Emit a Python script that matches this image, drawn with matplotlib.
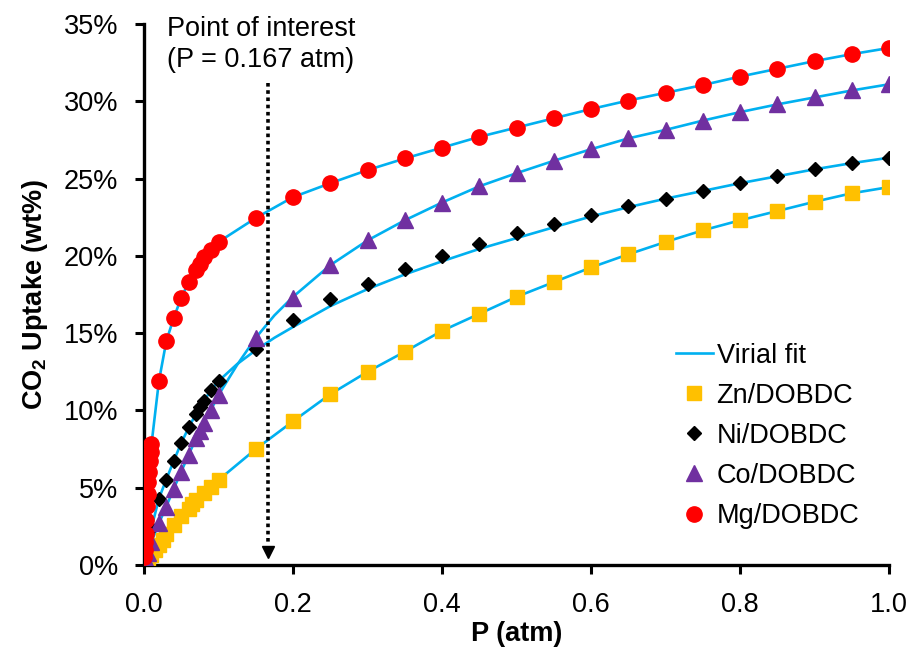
import numpy as np
import matplotlib
matplotlib.use("Agg")
import matplotlib.pyplot as plt
from matplotlib.lines import Line2D
from matplotlib.ticker import FuncFormatter, MultipleLocator

plt.rcParams['font.family'] = ['Liberation Sans', 'DejaVu Sans']
plt.rcParams['mathtext.fontset'] = 'custom'
plt.rcParams['mathtext.rm'] = 'Liberation Sans'
plt.rcParams['mathtext.bf'] = 'Liberation Sans:bold'

# --- measured isotherms (P in atm, uptake in wt%) ---
p_high = [0.15, 0.2, 0.25, 0.3, 0.35, 0.4, 0.45, 0.5, 0.55, 0.6,
          0.65, 0.7, 0.75, 0.8, 0.85, 0.9, 0.95, 1.0]

zn_p = [0.001, 0.003, 0.006, 0.01, 0.015, 0.02, 0.025, 0.03, 0.04, 0.05,
        0.06, 0.065, 0.07, 0.08, 0.09, 0.1] + p_high
zn_w = [0.1, 0.25, 0.45, 0.65, 0.95, 1.3, 1.65, 2.0, 2.6, 3.15,
        3.6, 3.95, 4.2, 4.65, 5.05, 5.5,
        7.5, 9.3, 11.05, 12.5, 13.8, 15.15, 16.25, 17.35, 18.3, 19.25,
        20.1, 20.9, 21.65, 22.3, 22.9, 23.5, 24.05, 24.45]

ni_p = [0.002, 0.005, 0.01, 0.02, 0.03, 0.04, 0.05, 0.06, 0.07, 0.075,
        0.08, 0.09, 0.1] + p_high
ni_w = [0.4, 1.2, 2.4, 4.3, 5.5, 6.7, 7.9, 8.9, 9.8, 10.2, 10.6, 11.3, 11.9,
        13.95, 15.85, 17.2, 18.2, 19.15, 20.0, 20.75, 21.45, 22.05, 22.65,
        23.2, 23.7, 24.2, 24.7, 25.15, 25.6, 26.0, 26.35]

co_p = [0.002, 0.005, 0.01, 0.02, 0.03, 0.04, 0.05, 0.06, 0.07, 0.075,
        0.08, 0.09, 0.1] + p_high
co_w = [0.3, 0.8, 1.5, 2.7, 3.75, 4.95, 6.05, 7.15, 8.2, 8.7, 9.2, 10.0, 11.0,
        14.7, 17.3, 19.4, 21.0, 22.3, 23.45, 24.5, 25.35, 26.15, 26.9,
        27.6, 28.15, 28.75, 29.3, 29.8, 30.25, 30.7, 31.1]

mg_p = [0.0005, 0.001, 0.0015, 0.002, 0.003, 0.004, 0.005, 0.006, 0.007,
        0.008, 0.009, 0.01, 0.02, 0.03, 0.04, 0.05, 0.06, 0.07, 0.075,
        0.08, 0.09, 0.1] + p_high
mg_w = [0.5, 1.0, 1.5, 2.0, 2.9, 3.8, 4.6, 5.4, 6.0, 6.7, 7.3, 7.8,
        11.9, 14.5, 16.0, 17.3, 18.3, 19.1, 19.5, 19.9, 20.4, 20.9,
        22.45, 23.8, 24.7, 25.55, 26.3, 27.0, 27.7, 28.3, 28.9, 29.5,
        30.05, 30.55, 31.05, 31.6, 32.1, 32.6, 33.05, 33.45]

# --- virial fit curves ---
fit_p = [0, 0.005, 0.01, 0.02, 0.03, 0.04, 0.05, 0.06, 0.07, 0.08, 0.09,
         0.1, 0.125, 0.15, 0.175, 0.2, 0.25, 0.3, 0.35, 0.4, 0.45, 0.5,
         0.55, 0.6, 0.65, 0.7, 0.75, 0.8, 0.85, 0.9, 0.95, 1.0]
ni_fit = [0, 1.2, 2.4, 4.3, 5.55, 6.75, 7.9, 8.9, 9.8, 10.6, 11.3, 11.9,
          13.0, 13.9, 14.7, 15.4, 16.75, 17.85, 18.8, 19.65, 20.45, 21.15,
          21.85, 22.55, 23.15, 23.7, 24.2, 24.7, 25.15, 25.6, 26.0, 26.35]
co_fit = [0, 0.8, 1.5, 2.7, 3.8, 4.95, 6.05, 7.15, 8.2, 9.2, 10.05, 11.0,
          12.95, 14.7, 16.15, 17.35, 19.4, 21.0, 22.3, 23.45, 24.5, 25.35,
          26.15, 26.9, 27.6, 28.15, 28.75, 29.3, 29.8, 30.25, 30.7, 31.1]
# Zn and Mg fits run through the measured points
zn_fit_p = [0] + zn_p
zn_fit = [0] + zn_w
mg_fit_p = [0] + mg_p
mg_fit = [0] + mg_w

poi_p = 0.167
poi_top = 31.2

fit_color = '#00B0F0'

fig = plt.figure(figsize=(9.15, 6.58), dpi=100)
ax = fig.add_axes([0.1574, 0.1413, 0.8142, 0.8222])

for fp, fw in [(zn_fit_p, zn_fit), (fit_p, ni_fit), (fit_p, co_fit), (mg_fit_p, mg_fit)]:
    ax.plot(fp, fw, color=fit_color, lw=1.9, zorder=2)

ax.plot(zn_p, zn_w, ls='none', marker='s', ms=10.5, color='#FFC000', zorder=3)
ax.plot(ni_p, ni_w, ls='none', marker='D', ms=7, color='black', zorder=4)
ax.plot(co_p, co_w, ls='none', marker='^', ms=11, color='#7030A0', zorder=5)
ax.plot(mg_p, mg_w, ls='none', marker='o', ms=11, color='#FF0000', zorder=6)

# point of interest arrow
ax.plot([poi_p, poi_p], [poi_top, 1.3], color='black', lw=2.6, ls=(0, (1, 1)), zorder=7)
ax.plot(poi_p, 0.85, marker='v', ms=8, color='black', zorder=7)
ax.text(0.031, 35.5, 'Point of interest\n(P = 0.167 atm)', fontsize=19.5,
        va='top', ha='left', linespacing=1.25, clip_on=False)

ax.set_xlim(0, 1.0)
ax.set_ylim(0, 35)
ax.xaxis.set_major_locator(MultipleLocator(0.2))
ax.yaxis.set_major_locator(MultipleLocator(5))
ax.xaxis.set_major_formatter(FuncFormatter(lambda v, _: f'{v:.1f}'))
ax.yaxis.set_major_formatter(FuncFormatter(lambda v, _: f'{v:.0f}%'))

for side in ['top', 'right']:
    ax.spines[side].set_visible(False)
for side in ['left', 'bottom']:
    ax.spines[side].set_linewidth(2.4)
ax.tick_params(axis='both', direction='out', length=6.5, width=2.2, labelsize=19.5)
ax.tick_params(axis='y', pad=12)
ax.tick_params(axis='x', pad=13)

ax.set_xlabel('P (atm)', fontsize=19.5, fontweight='bold', labelpad=2)
ax.set_ylabel(r'CO$_\mathbf{2}$ Uptake (wt%)', fontsize=19.5, fontweight='bold', labelpad=10)

handles = [
    Line2D([], [], color=fit_color, lw=1.9),
    Line2D([], [], ls='none', marker='s', ms=10.5, color='#FFC000'),
    Line2D([], [], ls='none', marker='D', ms=7, color='black'),
    Line2D([], [], ls='none', marker='^', ms=11, color='#7030A0'),
    Line2D([], [], ls='none', marker='o', ms=11, color='#FF0000'),
]
labels = ['Virial fit', 'Zn/DOBDC', 'Ni/DOBDC', 'Co/DOBDC', 'Mg/DOBDC']
ax.legend(handles, labels, loc='upper left', bbox_to_anchor=(0.714, 0.411),
          frameon=False, fontsize=19.5, handlelength=1.35, handletextpad=0.15,
          borderpad=0, borderaxespad=0, labelspacing=0.52)

fig.savefig('out.png', dpi=100)
